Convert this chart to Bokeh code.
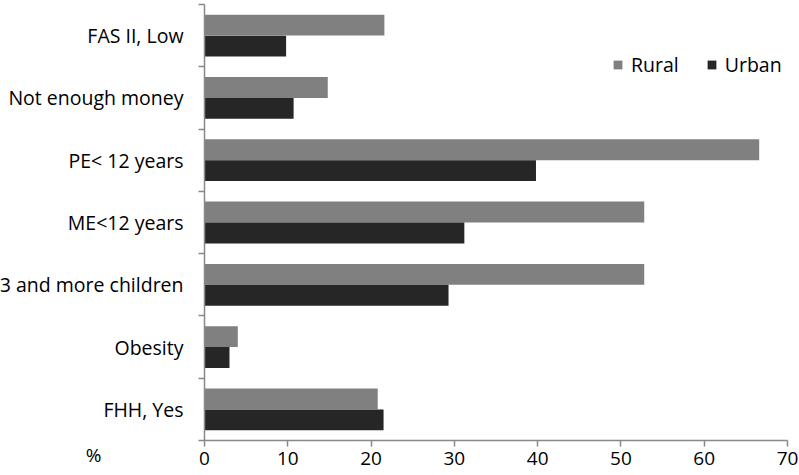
from bokeh.plotting import figure
from bokeh.models import (ColumnDataSource, FixedTicker, Label, Legend, LegendItem,
                          Range1d)
from bokeh.transform import dodge
from bokeh.embed import file_html
from bokeh.resources import INLINE

categories = ["FAS II, Low", "Not enough money", "PE< 12 years", "ME<12 years",
              "3 and more children", "Obesity", "FHH, Yes"]
rural = [21.6, 14.8, 66.6, 52.8, 52.8, 4.0, 20.8]
urban = [9.8, 10.7, 39.8, 31.2, 29.3, 3.0, 21.5]
x_ticks = [0, 10, 20, 30, 40, 50, 60, 70]
x_unit_label = "%"

n = len(categories)
pos = [n - i - 0.5 for i in range(n)]
src = ColumnDataSource(dict(cat=categories, y=pos, rural=rural, urban=urban))

FONT = "Open Sans"
FS = "19.5px"
AX = "#898989"

W, H = 799, 475
# frame covers the canvas; axes sit at fixed data locations inside it
p = figure(width=W, height=H,
           x_range=Range1d(-24.494, 71.441), y_range=Range1d(-0.562, 7.064),
           output_backend="svg", toolbar_location=None, min_border=0)
p.outline_line_color = None
p.xgrid.grid_line_color = None
p.ygrid.grid_line_color = None
p.background_fill_color = "white"
p.border_fill_color = "white"

r1 = p.hbar(y=dodge("y", 0.168, range=p.y_range), right="rural", left=0, height=0.335,
            source=src, fill_color="#808080", line_color=None)
r2 = p.hbar(y=dodge("y", -0.168, range=p.y_range), right="urban", left=0, height=0.335,
            source=src, fill_color="#262626", line_color=None)

# y axis: labels at centres, ticks at category boundaries
yax = p.yaxis[0]
yax.fixed_location = 0
yax.bounds = (0, n)
yax.ticker = FixedTicker(ticks=pos, minor_ticks=list(range(n + 1)))
yax.major_label_overrides = {pv: c for pv, c in zip(pos, categories)}
yax.major_tick_line_color = None
yax.major_tick_out = 0
yax.major_tick_in = 0
yax.minor_tick_out = 6
yax.minor_tick_in = 0
yax.minor_tick_line_color = AX
yax.minor_tick_line_width = 1.5
yax.axis_line_color = AX
yax.axis_line_width = 1.5
yax.major_label_standoff = 15
yax.major_label_text_font = FONT
yax.major_label_text_font_size = FS
yax.major_label_text_color = "black"

xax = p.xaxis[0]
xax.fixed_location = 0
xax.bounds = (x_ticks[0], x_ticks[-1])
xax.ticker = FixedTicker(ticks=x_ticks)
xax.minor_tick_line_color = None
xax.major_tick_out = 6
xax.major_tick_in = 0
xax.major_tick_line_color = AX
xax.major_tick_line_width = 1.5
xax.axis_line_color = AX
xax.axis_line_width = 1.5
xax.major_label_standoff = 6
xax.major_label_text_font = FONT
xax.major_label_text_font_size = "19px"
xax.major_label_text_color = "black"

pct = Label(x=-13.33, y=-0.225, text=x_unit_label,
            text_font=FONT, text_font_size="19px",
            text_align="center", text_baseline="middle", text_color="black")
p.add_layout(pct)

legend = Legend(items=[LegendItem(label="Rural", renderers=[r1]),
                       LegendItem(label="Urban", renderers=[r2])],
                orientation="horizontal", location=(612, 397))
legend.glyph_width = 11
legend.glyph_height = 11
legend.label_standoff = 8
legend.spacing = 27
legend.padding = 0
legend.margin = 0
legend.border_line_color = None
legend.background_fill_alpha = 0
legend.label_text_font = FONT
legend.label_text_font_size = FS
legend.label_text_color = "black"
p.add_layout(legend)

open("out.html", "w").write(file_html(p, INLINE))
